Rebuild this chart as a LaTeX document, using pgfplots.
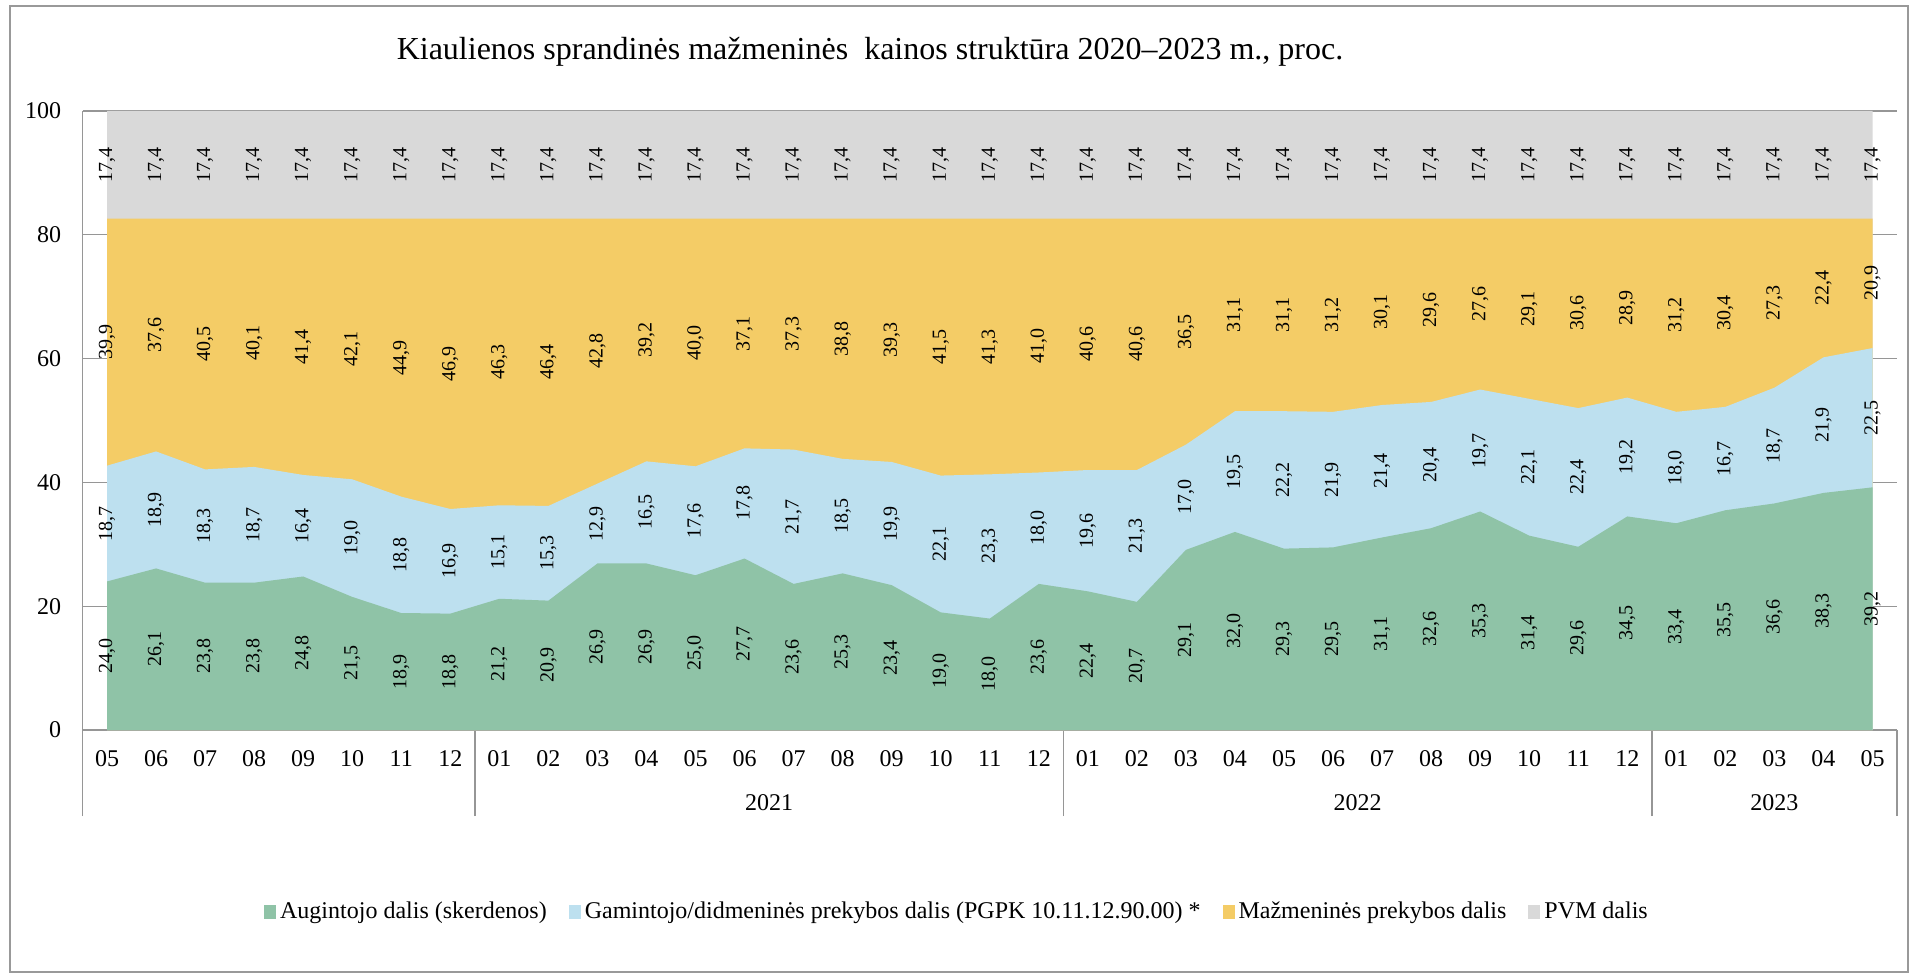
\documentclass[border=0pt]{standalone}
\usepackage{fontspec}
\setmainfont{Liberation Serif}
\usepackage{pgfplots}
\pgfplotsset{compat=1.18}
\usepackage{pgfplotstable}
\definecolor{cgreen}{RGB}{143,195,167}
\definecolor{cblue}{RGB}{189,224,239}
\definecolor{cyellow}{RGB}{244,204,102}
\definecolor{cgrey}{RGB}{217,217,217}
\definecolor{axgray}{RGB}{150,150,150}
\pgfplotstableread{
x a b c d
0 24.0 18.7 39.9 17.4
1 26.1 18.9 37.6 17.4
2 23.8 18.3 40.5 17.4
3 23.8 18.7 40.1 17.4
4 24.8 16.4 41.4 17.4
5 21.5 19.0 42.1 17.4
6 18.9 18.8 44.9 17.4
7 18.8 16.9 46.9 17.4
8 21.2 15.1 46.3 17.4
9 20.9 15.3 46.4 17.4
10 26.9 12.9 42.8 17.4
11 26.9 16.5 39.2 17.4
12 25.0 17.6 40.0 17.4
13 27.7 17.8 37.1 17.4
14 23.6 21.7 37.3 17.4
15 25.3 18.5 38.8 17.4
16 23.4 19.9 39.3 17.4
17 19.0 22.1 41.5 17.4
18 18.0 23.3 41.3 17.4
19 23.6 18.0 41.0 17.4
20 22.4 19.6 40.6 17.4
21 20.7 21.3 40.6 17.4
22 29.1 17.0 36.5 17.4
23 32.0 19.5 31.1 17.4
24 29.3 22.2 31.1 17.4
25 29.5 21.9 31.2 17.4
26 31.1 21.4 30.1 17.4
27 32.6 20.4 29.6 17.4
28 35.3 19.7 27.6 17.4
29 31.4 22.1 29.1 17.4
30 29.6 22.4 30.6 17.4
31 34.5 19.2 28.9 17.4
32 33.4 18.0 31.2 17.4
33 35.5 16.7 30.4 17.4
34 36.6 18.7 27.3 17.4
35 38.3 21.9 22.4 17.4
36 39.2 22.5 20.9 17.4
}\data
\pgfplotsset{
  lbl/.style={forget plot, draw=none, mark=none, point meta=explicit,
    nodes near coords={\pgfmathprintnumber[fixed,fixed zerofill,precision=1,use comma,assume math mode=true]{\pgfplotspointmeta}},
    nodes near coords style={anchor=center, rotate=90, inner sep=0pt, text=black, font=\fontsize{10}{12}\selectfont}}
}
\begin{document}
\begin{tikzpicture}
\path[use as bounding box] (0,0) rectangle (957pt,489.5pt);
\draw[color=gray!80, line width=1pt] (5pt,3.5pt) rectangle (954pt,486.5pt);
\node[anchor=base, font=\fontsize{16}{19}\selectfont] at (435pt,459.8pt) {Kiaulienos sprandinės mažmeninės~ kainos struktūra 2020--2023 m., proc.};
\begin{axis}[
  at={(41.25pt,124.5pt)}, anchor=south west,
  scale only axis, width=907.25pt, height=309.5pt,
  xmin=-0.5, xmax=36.5, ymin=0, ymax=100,
  axis x line*=bottom, axis y line*=left,
  axis line style={draw=axgray, line width=0.75pt},
  ytick={0,20,40,60,80,100},
  ymajorgrids, grid style={draw=axgray, line width=0.6pt},
  xtick={0,...,36},
  xticklabels={05,06,07,08,09,10,11,12,01,02,03,04,05,06,07,08,09,10,11,12,01,02,03,04,05,06,07,08,09,10,11,12,01,02,03,04,05},
  major tick length=0pt, tick align=outside,
  extra x ticks={-0.5,7.5,19.5,31.5,36.5},
  extra x tick labels={},
  extra x tick style={major tick length=43pt, tick style={draw=axgray, line width=0.75pt}},
  tick label style={font=\fontsize{12}{14}\selectfont},
  xticklabel style={anchor=base, yshift=-18.3pt},
  yticklabel style={anchor=east, inner sep=0pt, xshift=-10.5pt},
  /pgf/number format/assume math mode=true,
  clip=false,
  reverse legend,
  legend columns=-1,
  legend style={at={(0.4825,-0.294)}, anchor=center, draw=none, fill=none,
    font=\fontsize{12}{14}\selectfont, nodes={inner xsep=2pt},
    /tikz/every even column/.append style={column sep=9pt}},
  legend image code/.code={\path[#1] (0pt,-3.3pt) rectangle (6pt,3.3pt);},
]
\addplot[fill=cgrey, draw=none] table[x=x, y expr=\thisrow{a}+\thisrow{b}+\thisrow{c}+\thisrow{d}] {\data} \closedcycle;
\addlegendentry{PVM dalis}
\addplot[fill=cyellow, draw=none] table[x=x, y expr=\thisrow{a}+\thisrow{b}+\thisrow{c}] {\data} \closedcycle;
\addlegendentry{Mažmeninės prekybos dalis}
\addplot[fill=cblue, draw=none] table[x=x, y expr=\thisrow{a}+\thisrow{b}] {\data} \closedcycle;
\addlegendentry{Gamintojo/didmeninės prekybos dalis (PGPK 10.11.12.90.00) *}
\addplot[fill=cgreen, draw=none] table[x=x, y=a] {\data} \closedcycle;
\addlegendentry{Augintojo dalis (skerdenos)}

\addplot[lbl] table[x=x, y expr=0.5*\thisrow{a}, meta=a] {\data};
\addplot[lbl] table[x=x, y expr=\thisrow{a}+0.5*\thisrow{b}, meta=b] {\data};
\addplot[lbl] table[x=x, y expr=\thisrow{a}+\thisrow{b}+0.5*\thisrow{c}, meta=c] {\data};
\addplot[lbl] table[x=x, y expr=\thisrow{a}+\thisrow{b}+\thisrow{c}+0.5*\thisrow{d}, meta=d] {\data};

\node[anchor=base, font=\fontsize{12}{14}\selectfont, yshift=-40pt] at (axis cs:13.5,0) {2021};
\node[anchor=base, font=\fontsize{12}{14}\selectfont, yshift=-40pt] at (axis cs:25.5,0) {2022};
\node[anchor=base, font=\fontsize{12}{14}\selectfont, yshift=-40pt] at (axis cs:34,0) {2023};
\end{axis}
\end{tikzpicture}
\end{document}
